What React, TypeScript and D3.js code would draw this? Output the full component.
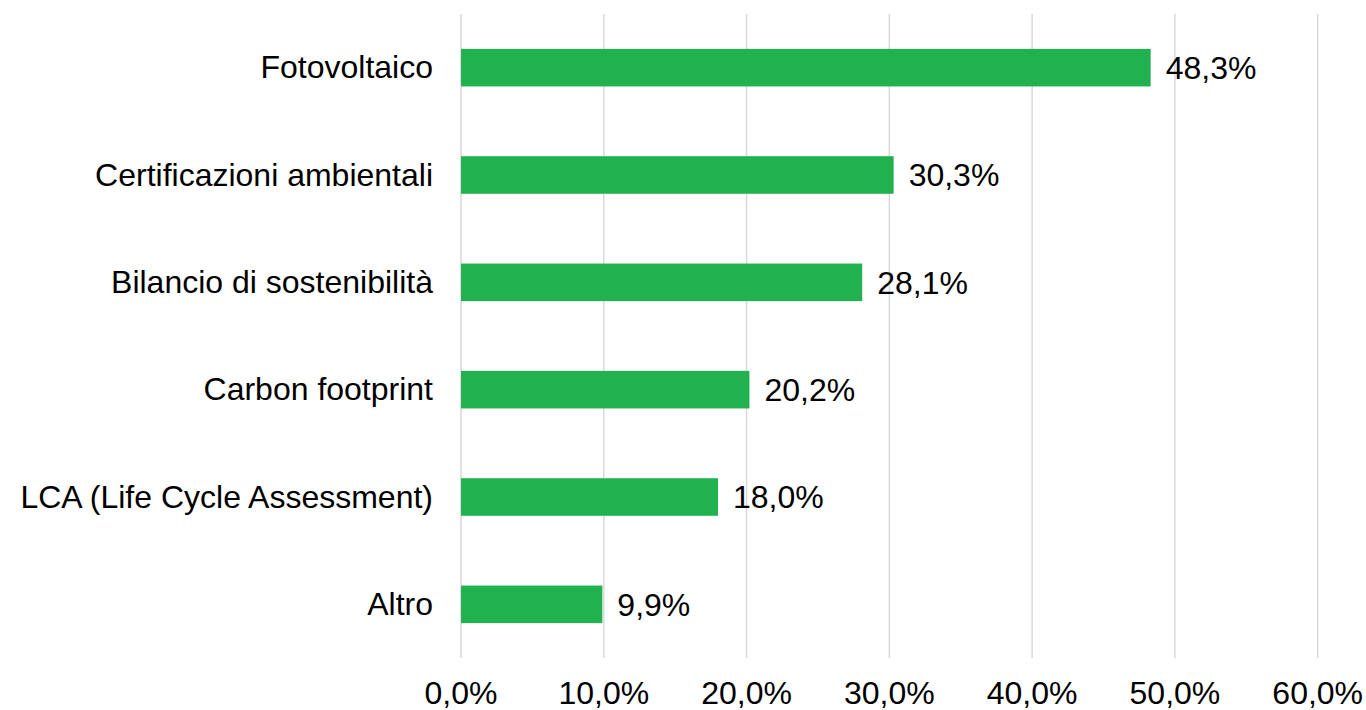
import React from "react";
import * as d3 from "d3";

const categories = [
  "Fotovoltaico",
  "Certificazioni ambientali",
  "Bilancio di sostenibilità",
  "Carbon footprint",
  "LCA (Life Cycle Assessment)",
  "Altro",
];
const values = [48.3, 30.3, 28.1, 20.2, 18.0, 9.9];
const ticks = [0, 10, 20, 30, 40, 50, 60];

const W = 1366;
const H = 710;
const fmt = (v: number) => v.toFixed(1).replace(".", ",") + "%";

export default function App() {
  const x = d3.scaleLinear().domain([0, 60]).range([461, 1317.7]);
  const y = d3
    .scaleBand<string>()
    .domain(categories)
    .range([14, 658])
    .paddingInner(0.65)
    .paddingOuter(0.325);
  const font = "'Liberation Sans', Arial, sans-serif";
  const fs = 32;
  return (
    <svg
      width={W}
      height={H}
      style={{ position: "absolute", left: 0, top: 0, background: "#fff" }}
      fontFamily={font}
    >
      {ticks.map((t) => (
        <line
          key={"g" + t}
          x1={x(t)}
          x2={x(t)}
          y1={14}
          y2={658}
          stroke="#d9d9d9"
          strokeWidth={1.5}
        />
      ))}
      {categories.map((c, i) => (
        <g key={c}>
          <rect
            x={x(0)}
            y={y(c)}
            width={x(values[i]) - x(0)}
            height={y.bandwidth()}
            fill="#22b14f"
          />
          <text
            x={433}
            y={(y(c) as number) + y.bandwidth() / 2}
            dy="0.33em"
            textAnchor="end"
            fontSize={fs}
            fill="#000"
          >
            {c}
          </text>
          <text
            x={x(values[i]) + 15}
            y={(y(c) as number) + y.bandwidth() / 2}
            dy="0.35em"
            fontSize={fs}
            fill="#000"
          >
            {fmt(values[i])}
          </text>
        </g>
      ))}
      {ticks.map((t) => (
        <text
          key={"t" + t}
          x={x(t)}
          y={704}
          textAnchor="middle"
          fontSize={fs}
          fill="#000"
        >
          {fmt(t)}
        </text>
      ))}
    </svg>
  );
}
